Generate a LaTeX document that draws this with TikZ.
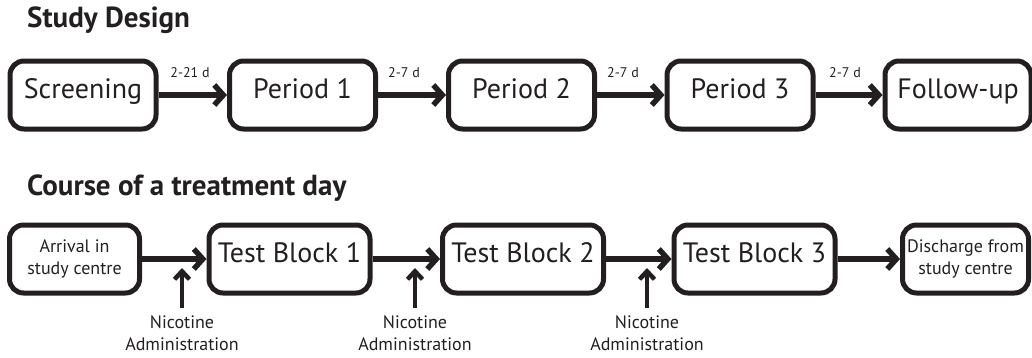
\documentclass[tikz,border=0pt]{standalone}
\usepackage{fontspec}
\setmainfont{PT Sans}
\usetikzlibrary{arrows.meta}
\definecolor{ink}{RGB}{35,31,32}
\begin{document}
\begin{tikzpicture}[x=1pt,y=-1pt,
  box/.style={draw=ink, line width=5pt, rounded corners=14pt, inner sep=0pt, align=center, text=ink},
  topbox/.style={box, minimum width=146pt, minimum height=68pt, text height=0.7em, text depth=0.1em, font=\fontsize{28}{32}\selectfont},
  botbox/.style={box, minimum height=68pt, text height=0.7em, text depth=0.1em, font=\fontsize{28}{32}\selectfont},
  smallbox/.style={box, minimum height=68pt, font=\fontsize{18}{22}\selectfont},
  title/.style={anchor=base west, inner sep=0pt, text=ink, font=\fontsize{29}{34}\selectfont\bfseries},
  lbl/.style={inner sep=0pt, text=ink, font=\fontsize{14}{16}\selectfont},
  note/.style={inner sep=0pt, text=ink, align=center, anchor=north, font=\fontsize{18}{22}\selectfont},
  arr/.style={draw=ink, line width=5.5pt, -{Straight Barb[length=9pt,width=20pt]}},
  varr/.style={draw=ink, line width=4.5pt, -{Straight Barb[length=8pt,width=15pt]}}
]
\useasboundingbox (0,0) rectangle (1032,357);

\node[title] (t1) at (27,27) {Study Design};
\node[title] (t2) at (27,195) {Course of a treatment day};

% top row
\node[topbox] (s)  at (83,95)    {Screening};
\node[topbox] (p1) at (302.5,95) {Period 1};
\node[topbox] (p2) at (521.5,95) {Period 2};
\node[topbox] (p3) at (740,95)   {Period 3};
\node[topbox] (f)  at (958,95)   {Follow-up};

\draw[arr] (s.east) -- (p1.west);
\draw[arr] (p1.east) -- (p2.west);
\draw[arr] (p2.east) -- (p3.west);
\draw[arr] (p3.east) -- (f.west);

\node[lbl] (l1) at (190,73) {2-21 d};
\node[lbl] (l2) at (404,73) {2-7 d};
\node[lbl] (l3) at (623,73) {2-7 d};
\node[lbl] (l4) at (845,73) {2-7 d};

% bottom row
\node[smallbox, minimum width=130pt] (a)  at (74.5,259) {Arrival in\\study centre};
\node[botbox, minimum width=161pt]   (b1) at (289.5,259) {Test Block 1};
\node[botbox, minimum width=161pt]   (b2) at (523,259)   {Test Block 2};
\node[botbox, minimum width=161pt]   (b3) at (754.5,259) {Test Block 3};
\node[smallbox, minimum width=126pt] (d)  at (965.5,259) {Discharge from\\study centre};

\draw[arr] (a.east) -- (b1.west);
\draw[arr] (b1.east) -- (b2.west);
\draw[arr] (b2.east) -- (b3.west);
\draw[arr] (b3.east) -- (d.west);

\coordinate (v1s) at (182,308); \coordinate (v1e) at (182,268);
\coordinate (v2s) at (415,308); \coordinate (v2e) at (415,268);
\coordinate (v3s) at (647,308); \coordinate (v3e) at (647,268);
\draw[varr] (v1s) -- (v1e);
\draw[varr] (v2s) -- (v2e);
\draw[varr] (v3s) -- (v3e);

\node[note] (n1) at (182,315) {Nicotine\\Administration};
\node[note] (n2) at (415,315) {Nicotine\\Administration};
\node[note] (n3) at (647,315) {Nicotine\\Administration};
\end{tikzpicture}
\end{document}
